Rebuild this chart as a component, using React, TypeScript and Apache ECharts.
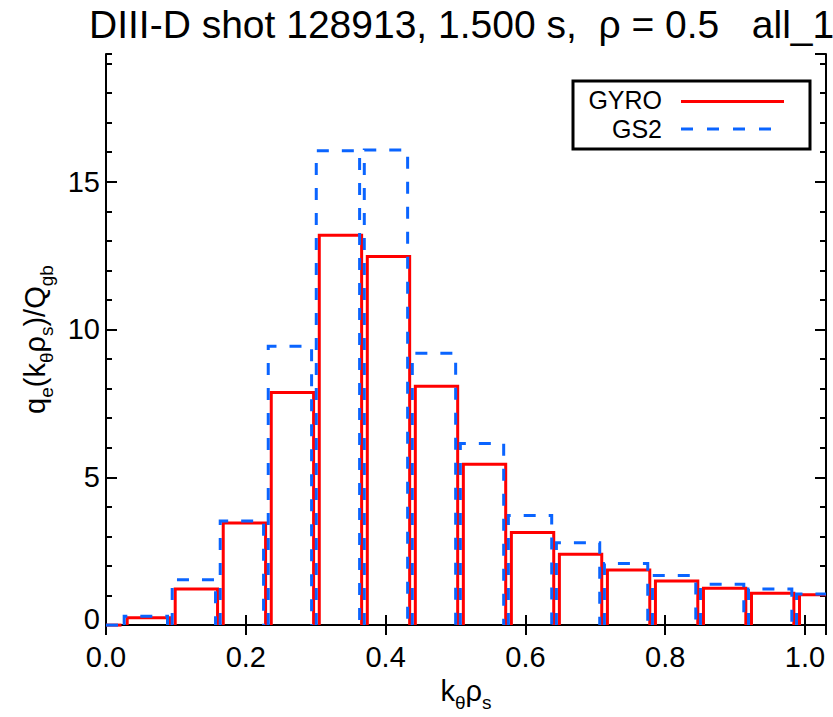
import React, { useEffect, useRef } from "react";
import * as echarts from "echarts";

// k_theta rho_s grid (bin positions)
const kThetaRhoS = [0, 0.0687, 0.1374, 0.2061, 0.2748, 0.3435, 0.4122, 0.4809, 0.5496, 0.6183, 0.687, 0.7557, 0.8244, 0.8931, 0.9618, 1.0305];
// q_e(k_theta rho_s)/Q_gb
const gyro = [0, 0.25, 1.22, 3.45, 7.87, 13.19, 12.47, 8.08, 5.44, 3.13, 2.4, 1.86, 1.49, 1.25, 1.08, 1.03];
const gs2 = [0, 0.3, 1.53, 3.52, 9.43, 16.05, 16.07, 9.2, 6.14, 3.71, 2.79, 2.08, 1.68, 1.38, 1.22, 1.05];
const seriesNames = ["GYRO", "GS2"];
const xTicks = [0, 0.2, 0.4, 0.6, 0.8, 1.0];
const yTicks = [0, 5, 10, 15];

const X_MAX = 1.03;
const Y_MAX = 19.32;
const FONT = "'Liberation Sans', Arial, Helvetica, sans-serif";
const RED = "#ff0000";
const BLUE = "#0a64ff";

function makeRender(shiftL: number, shiftR: number, color: string, dash: number[] | null) {
  return (params: any, api: any) => {
    const k = api.value(0);
    const v = api.value(1);
    const center = k - 0.0081;
    let x0 = center - 0.0303 + shiftL;
    let x1 = center + 0.0303 + shiftR;
    const pts: number[][] = [];
    const leftClipped = x0 < 0;
    const rightClipped = x1 > X_MAX;
    x0 = Math.max(0, x0);
    x1 = Math.min(X_MAX, x1);
    if (!leftClipped) pts.push(api.coord([x0, 0]));
    pts.push(api.coord([x0, v]));
    pts.push(api.coord([x1, v]));
    if (!rightClipped) pts.push(api.coord([x1, 0]));
    return {
      type: "polyline",
      shape: { points: pts },
      style: {
        fill: "none",
        stroke: color,
        lineWidth: 3,
        lineDash: dash || undefined,
      },
    };
  };
}

export default function App() {
  const ref = useRef<HTMLDivElement>(null);
  useEffect(() => {
    if (!ref.current) return;
    const chart = echarts.init(ref.current, undefined, { renderer: "svg" });
    const labelStyle = { fontSize: 29, color: "#000", fontFamily: FONT };
    const axisLine = { show: true, lineStyle: { color: "#000", width: 2 } };
    const grid = { left: 106, right: 7, top: 54, bottom: 82 };
    const nameRich = {
      n: { fontSize: 29, fontFamily: FONT, color: "#000", lineHeight: 29, padding: [0, 0, 7, 0], verticalAlign: "bottom" },
      s: { fontSize: 19, fontFamily: FONT, color: "#000", lineHeight: 19, verticalAlign: "bottom" },
    };
    chart.setOption({
      animation: false,
      backgroundColor: "#fff",
      title: {
        text: "DIII-D shot 128913, 1.500 s,  ρ = 0.5   all_1",
        left: 84,
        top: 0,
        textStyle: { fontSize: 39, fontWeight: "normal", color: "#000", fontFamily: FONT },
      },
      grid,
      xAxis: [
        {
          type: "value",
          position: "bottom",
          min: 0,
          max: X_MAX,
          interval: 0.2,
          axisLine,
          axisTick: { show: true, inside: true, length: 10, lineStyle: { color: "#000", width: 2 } },
          axisLabel: {
            ...labelStyle,
            margin: 17,
            showMaxLabel: false,
            formatter: (v: number) => (xTicks.some((t) => Math.abs(t - v) < 1e-6) ? v.toFixed(1) : ""),
          },
          splitLine: { show: false },
          name: "{n|k}{s|θ}{n|ρ}{s|s}",
          nameLocation: "middle",
          nameGap: 57,
          nameTextStyle: { rich: nameRich },
        },
        {
          type: "value",
          position: "top",
          min: 0,
          max: X_MAX,
          interval: 0.2,
          axisLine,
          axisTick: { show: true, inside: true, length: 10, lineStyle: { color: "#000", width: 2 } },
          axisLabel: { show: false },
          splitLine: { show: false },
        },
      ],
      yAxis: [
        {
          type: "value",
          position: "left",
          min: 0,
          max: Y_MAX,
          interval: 5,
          axisLine,
          axisTick: { show: true, inside: true, length: 11, lineStyle: { color: "#000", width: 2 } },
          axisLabel: {
            ...labelStyle,
            margin: 6,
            showMaxLabel: false,
            formatter: (v: number) =>
              yTicks.indexOf(v) < 0 ? "" : v === 0 ? "{z|0}" : String(v),
            rich: { z: { fontSize: 29, color: "#000", fontFamily: FONT, padding: [0, 0, 12, 0] } },
          },
          splitLine: { show: false },
          name: "{n|q}{s|e}{n|(k}{s|θ}{n|ρ}{s|s}{n|)/Q}{s|gb}",
          nameLocation: "middle",
          nameRotate: 90,
          nameGap: 50,
          nameTextStyle: { rich: nameRich },
        },
        {
          type: "value",
          position: "left",
          min: 0,
          max: Y_MAX,
          interval: 1,
          axisLine: { show: false },
          axisTick: { show: true, inside: true, length: 6, lineStyle: { color: "#000", width: 2 } },
          axisLabel: { show: false },
          splitLine: { show: false },
        },
        {
          type: "value",
          position: "right",
          min: 0,
          max: Y_MAX,
          interval: 5,
          axisLine,
          axisTick: { show: true, inside: true, length: 11, lineStyle: { color: "#000", width: 2 } },
          axisLabel: { show: false },
          splitLine: { show: false },
        },
        {
          type: "value",
          position: "right",
          min: 0,
          max: Y_MAX,
          interval: 1,
          axisLine: { show: false },
          axisTick: { show: true, inside: true, length: 6, lineStyle: { color: "#000", width: 2 } },
          axisLabel: { show: false },
          splitLine: { show: false },
        },
      ],
      series: [
        {
          name: seriesNames[0],
          type: "custom",
          xAxisIndex: 0,
          yAxisIndex: 0,
          renderItem: makeRender(0, 0, RED, null),
          data: kThetaRhoS.map((k, i) => [k, gyro[i]]),
          z: 2,
        },
        {
          name: seriesNames[1],
          type: "custom",
          xAxisIndex: 0,
          yAxisIndex: 0,
          renderItem: makeRender(-0.0043, -0.0029, BLUE, [12, 13]),
          data: kThetaRhoS.map((k, i) => [k, gs2[i]]),
          z: 3,
        },
      ],
      graphic: [
        {
          type: "rect",
          shape: { x: 573, y: 81, width: 237, height: 68 },
          style: { fill: "#fff", stroke: "#000", lineWidth: 3 },
          z: 10,
        },
        {
          type: "text",
          style: { text: seriesNames[0], x: 662, y: 100, textAlign: "right", textVerticalAlign: "middle", fontSize: 25, lineHeight: 24, fontFamily: FONT, fill: "#000" },
          z: 11,
        },
        {
          type: "line",
          shape: { x1: 681, y1: 101.5, x2: 784, y2: 101.5 },
          style: { stroke: RED, lineWidth: 3 },
          z: 11,
        },
        {
          type: "text",
          style: { text: seriesNames[1], x: 662, y: 129, textAlign: "right", textVerticalAlign: "middle", fontSize: 25, lineHeight: 24, fontFamily: FONT, fill: "#000" },
          z: 11,
        },
        {
          type: "line",
          shape: { x1: 681, y1: 129, x2: 772, y2: 129 },
          style: { stroke: BLUE, lineWidth: 3, lineDash: [12, 14] },
          z: 11,
        },
      ],
    });
    return () => chart.dispose();
  }, []);
  return (
    <div
      ref={ref}
      style={{ position: "fixed", left: 0, top: 0, width: 833, height: 717, background: "#fff" }}
    />
  );
}
